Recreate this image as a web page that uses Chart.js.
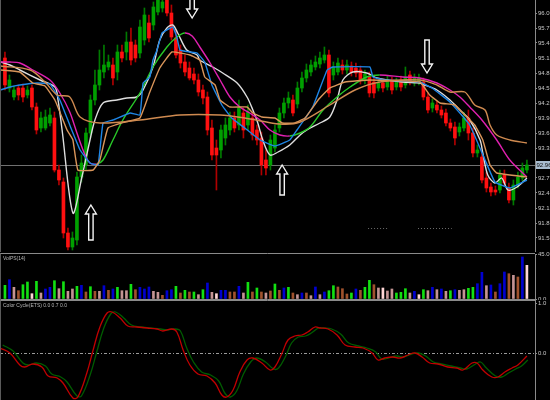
<!DOCTYPE html>
<html><head><meta charset="utf-8">
<script src="https://cdn.jsdelivr.net/npm/chart.js@4.4.0/dist/chart.umd.min.js"></script>
<style>
html,body{margin:0;padding:0;background:#000;width:550px;height:400px;overflow:hidden}
.p{position:absolute;left:0;width:550px}
canvas{display:block}
</style></head><body>
<div class="p" style="top:0;height:252px"><canvas id="main" width="550" height="252"></canvas></div>
<div class="p" style="top:252px;height:48px"><canvas id="vol" width="550" height="48"></canvas></div>
<div class="p" style="top:300px;height:100px"><canvas id="osc" width="550" height="100"></canvas></div>
<script>
// ---------- DATA ----------
const candleOpen = [95.10,94.50,94.32,94.50,94.50,94.36,94.50,94.12,93.70,93.70,
 93.80,93.90,92.86,92.62,91.60,91.32,91.46,92.72,92.96,93.60,
 94.26,94.56,94.82,94.92,94.96,94.82,95.22,95.22,95.42,95.36,
 95.20,95.46,95.80,95.76,96.02,96.10,96.26,96.00,95.50,95.26,
 95.02,94.90,94.78,94.66,94.46,94.32,93.70,93.30,93.26,93.50,
 93.66,93.90,93.76,94.00,93.76,93.90,93.66,93.50,93.06,92.96,
 93.30,93.70,94.00,94.20,94.26,94.18,94.50,94.70,94.82,94.92,
 94.98,95.06,95.16,94.76,94.82,94.96,94.86,94.94,94.90,94.86,
 94.66,94.72,94.62,94.50,94.60,94.52,94.66,94.52,94.66,94.56,
 94.76,94.60,94.62,94.62,94.32,94.10,94.16,94.06,94.00,93.80,
 93.72,93.62,93.70,93.90,93.60,93.20,93.12,92.70,92.52,92.46,
 92.46,92.76,92.50,92.26,92.56,92.70,92.86];
const candleClose = [94.56,94.66,94.46,94.36,94.32,94.46,94.12,93.66,93.90,93.92,
 93.96,92.86,92.66,91.60,91.32,91.50,92.72,93.00,93.60,94.26,
 94.56,94.86,94.96,95.02,94.70,95.22,95.10,95.42,95.06,95.10,
 95.72,95.96,95.50,96.12,96.26,96.22,96.00,95.52,95.16,95.00,
 94.82,94.70,94.66,94.42,94.30,93.66,93.16,93.16,93.66,93.76,
 93.90,93.70,94.10,93.66,94.02,93.56,93.46,92.96,92.90,93.46,
 93.66,94.00,94.20,94.30,94.00,94.50,94.70,94.86,94.96,95.02,
 95.10,95.16,94.40,94.92,95.00,94.86,94.96,94.82,94.80,94.66,
 94.78,94.40,94.40,94.60,94.50,94.66,94.46,94.62,94.52,94.72,
 94.62,94.70,94.70,94.32,94.06,94.20,94.06,93.96,93.80,93.70,
 93.50,93.72,93.90,93.60,93.20,93.26,92.66,92.50,92.42,92.42,
 92.76,92.60,92.26,92.56,92.72,92.90,92.96];
const candleHigh = [95.22,94.76,94.54,94.56,94.58,94.54,94.56,94.20,94.02,94.06,
 94.10,94.02,92.96,92.70,91.70,91.62,92.82,93.16,93.70,94.36,
 94.86,95.26,95.36,95.16,95.10,95.36,95.36,95.62,95.70,95.46,
 95.86,96.10,95.96,96.22,96.36,96.36,96.36,96.16,95.66,95.36,
 95.16,95.02,94.90,94.78,94.56,94.42,93.86,93.46,93.76,93.90,
 94.02,94.02,94.26,94.10,94.16,94.02,93.76,93.62,93.26,93.56,
 93.76,94.10,94.30,94.42,94.36,94.62,94.82,94.98,95.06,95.14,
 95.22,95.32,95.26,95.02,95.10,95.06,95.06,95.02,95.00,94.94,
 94.86,94.82,94.70,94.66,94.66,94.74,94.72,94.70,94.74,94.92,
 94.84,94.78,94.78,94.70,94.40,94.28,94.24,94.14,94.08,93.88,
 93.82,93.80,94.02,94.06,93.70,93.36,93.26,92.82,92.60,92.54,
 92.86,92.86,92.60,92.66,92.82,93.00,93.06];
const candleLow = [94.46,94.42,94.26,94.26,94.22,94.30,94.06,93.58,93.62,93.66,
 93.74,92.82,92.56,91.50,91.26,91.26,91.36,92.62,92.86,93.50,
 94.16,94.46,94.70,94.86,94.56,94.66,95.02,95.06,94.96,95.02,
 95.10,95.36,95.42,95.66,95.96,96.02,95.94,95.46,95.10,94.90,
 94.74,94.66,94.58,94.34,94.18,93.56,93.06,92.46,93.10,93.36,
 93.56,93.62,93.66,93.50,93.66,93.46,93.36,92.76,92.76,92.86,
 93.22,93.62,93.90,94.10,93.94,94.10,94.42,94.62,94.74,94.86,
 94.90,95.00,94.32,94.66,94.76,94.78,94.78,94.74,94.72,94.58,
 94.58,94.32,94.30,94.44,94.42,94.46,94.38,94.46,94.44,94.50,
 94.56,94.54,94.56,94.26,94.00,94.02,94.00,93.90,93.74,93.64,
 93.36,93.54,93.64,93.46,93.12,93.12,92.60,92.42,92.34,92.36,
 92.40,92.54,92.20,92.16,92.50,92.64,92.80];
const lastPrice = 92.96;
const priceTicks = [96.0,95.7,95.4,95.1,94.8,94.5,94.2,93.9,93.6,93.3,93.0,92.7,92.4,92.1,91.8,91.5];

// moving averages: [bar index, price]
const maWhite = [[-1,95.02],[1.1,94.96],[3.3,94.86],[7.8,94.66],[11.1,94.52],[11.8,94.26],[12.7,93.66],[15.1,92.00],[17.1,92.72],[18.9,93.46],[20,93.86],[21.8,94.20],[24.9,94.26],[27.1,94.30],[29.3,94.32],[30.7,94.46],[32.9,94.92],[34.4,95.46],[36,95.70],[37.3,95.76],[38.4,95.60],[40.4,95.26],[42.7,95.16],[43.3,95.06],[46.2,94.92],[48.4,94.80],[51.6,94.60],[53.8,94.32],[55.1,94.06],[56.2,93.80],[57.3,93.46],[58.9,93.16],[60.7,93.22],[63.3,93.36],[65.6,93.56],[67.1,93.66],[70,93.80],[72.2,93.92],[73.8,94.26],[75.1,94.66],[77.3,94.82],[80.4,94.80],[82.7,94.70],[88.4,94.62],[92.2,94.60],[93.3,94.56],[96,94.46],[98.9,94.26],[101.1,94.06],[103.3,93.86],[105.6,93.46],[106.2,93.20],[107.3,92.76],[108.9,92.60],[110.4,92.70],[111.8,92.46],[113.8,92.52],[116,92.70]];
const maBlue = [[-1,94.46],[1.1,94.52],[3.3,94.56],[7.1,94.60],[10,94.58],[12.2,94.26],[14.4,93.76],[16.7,93.26],[18.9,93.00],[20.7,92.96],[21.8,93.80],[24,93.86],[27.8,94.00],[30,93.96],[30.7,94.60],[32.2,94.72],[32.9,95.06],[33.8,95.26],[34.9,95.60],[36,95.66],[37.3,95.72],[38.2,95.52],[38.9,95.26],[41.1,95.22],[42.7,95.20],[44.4,95.02],[46,94.56],[48.2,94.16],[50.4,93.90],[53.3,93.70],[56.7,93.46],[60,93.34],[63.3,93.46],[64.9,93.66],[68.4,94.12],[71.6,94.86],[72.9,94.92],[81.1,94.92],[81.8,94.72],[84.4,94.66],[92.2,94.62],[94.9,94.50],[98.9,94.22],[103.3,93.76],[106.7,93.06],[108.9,92.62],[112.2,92.50],[116,92.66]];
const maTrend = [[-1,95.02],[1.1,95.02],[3.3,95.00],[6.2,94.86],[10,94.66],[12.2,94.40],[14.4,94.02],[16,93.60],[17.8,93.16],[18.9,93.00],[20.4,92.98],[21.8,93.06],[24,93.46],[26.2,93.86],[30,94.40],[32.9,94.92],[36,95.32],[38.2,95.52],[40,95.60],[41.6,95.54],[43.3,95.32],[45.6,95.00],[47.8,94.66],[50,94.32],[52.2,94.12],[54.4,94.00],[56.7,93.86],[58.9,93.66],[61.1,93.56],[63.3,93.54],[65.6,93.60],[67.8,93.72],[70.7,94.06],[73.8,94.32],[76.7,94.52],[80.4,94.72],[83.3,94.76],[88.4,94.72],[92.2,94.70],[96,94.60],[98.9,94.46],[101.1,94.32],[103.3,94.12],[106,93.86],[109.3,93.46],[112.2,93.06],[116,92.72]];
const maOrangeFast = [[-1,94.86],[3.3,94.82],[6.2,94.60],[8.9,94.54],[11.1,94.26],[13.8,93.66],[15.1,93.46],[16.2,92.86],[19.6,92.86],[21.1,93.06],[22.9,93.70],[26.7,93.82],[30,93.90],[32.2,94.42],[34.4,94.90],[37.1,95.22],[41.1,95.16],[43.3,95.06],[44.4,94.72],[46.7,94.56],[47.8,94.26],[50,94.12],[53.8,94.12],[55.1,94.00],[57.1,93.92],[60,93.90],[61.6,93.80],[64.4,93.80],[66.7,93.90],[69.6,94.26],[72.2,94.50],[75.6,94.62],[81.1,94.66],[92.2,94.62],[94.4,94.36],[96.7,94.20],[100,94.16],[102.2,93.96],[104.4,93.76],[106.2,93.46],[107.8,92.96],[109.3,92.80],[116,92.72]];
const maOrangeSlow = [[-1,94.94],[5.6,94.86],[8.9,94.62],[11.6,94.36],[14.4,94.32],[16.7,93.92],[21.1,93.80],[30,93.86],[38.9,93.96],[47.8,93.96],[53.3,93.90],[61.1,93.78],[65.6,93.82],[72.2,94.16],[77.8,94.46],[83.3,94.62],[92.2,94.66],[96,94.56],[98.9,94.42],[102.2,94.42],[104.4,94.16],[106.7,94.06],[107.8,93.76],[109.3,93.56],[112.2,93.46],[116,93.40]];
// signal arrows: [bar index, tip price, tail price, direction]
const arrowMarks = [[19.1,92.16,91.46,'up'],[41.6,95.90,96.34,'down'],[61.6,92.96,92.36,'up'],[93.8,94.80,95.46,'down']];
const dottedLevels = [[80.7,85.0,91.70],[91.8,99.3,91.70]];

const volumes = [13.7,19.3,11.7,8.3,14.3,17.0,5.3,17.7,6.0,10.0,
 11.7,18.3,10.3,17.3,7.7,10.0,12.7,13.7,7.0,12.3,
 7.7,7.7,13.3,8.7,10.0,11.7,8.3,8.3,14.7,9.3,
 11.7,10.0,12.0,7.7,6.7,3.7,8.3,9.3,12.7,6.0,
 8.7,7.0,7.0,4.3,9.3,16.0,6.7,5.3,8.7,8.7,
 7.0,7.0,12.7,6.0,16.7,7.0,11.0,7.0,6.0,8.0,
 15.0,8.7,11.0,11.7,6.0,4.3,6.0,6.0,3.3,12.0,
 4.3,7.0,8.3,13.3,12.0,10.3,5.0,6.0,10.0,8.7,
 11.7,18.7,14.3,11.0,11.0,8.0,10.0,6.0,6.7,10.3,
 6.0,7.7,4.3,9.3,8.3,11.7,9.3,10.0,7.7,8.3,
 9.3,8.7,9.3,10.7,11.7,15.3,26.7,13.3,14.0,7.0,
 15.3,27.0,25.3,23.7,22.0,42.0,33.7];
const volTypes = ['g','b','p','r','g','g','w','g','p','b',
 'b','g','p','g','p','p','g','b','r','g',
 'r','p','b','r','b','g','p','p','g','r',
 'b','b','b','p','p','r','b','b','g','r',
 'g','r','g','p','g','b','p','w','b','b',
 'r','r','b','p','g','r','g','r','p','r',
 'g','r','b','g','r','p','b','r','p','b',
 'p','b','g','g','r','r','r','g','b','r',
 'g','g','r','p','w','p','p','g','g','g',
 'p','b','w','g','p','b','p','b','p','g',
 'b','p','p','g','g','b','b','p','b','r',
 'b','b','r','p','r','b','w'];
const volTicks = [0, 45];
const volLabel = 'VolPS(14)';

const oscRed = [[-1.1,0.10],[1.1,0.00],[3.3,-0.24],[4.4,-0.28],[6.2,-0.22],[8.2,-0.28],[9.6,-0.46],[11.6,-0.50],[12.9,-0.60],[15.1,-0.90],[16.2,-0.88],[18.2,-0.40],[19.6,0.06],[21.1,0.52],[22.7,0.80],[23.8,0.82],[25.6,0.70],[27.3,0.54],[29.3,0.52],[31.6,0.50],[33.8,0.48],[35.1,0.44],[37.1,0.48],[38.2,0.42],[39.6,0.06],[41.1,-0.24],[42.9,-0.42],[44.9,-0.46],[46.7,-0.60],[48.2,-0.84],[49.3,-0.88],[50.7,-0.74],[52.2,-0.38],[53.8,-0.14],[55.1,-0.10],[57.1,-0.20],[58.9,-0.34],[60,-0.28],[61.6,0.00],[62.9,0.26],[64.4,0.34],[66,0.36],[67.3,0.42],[68.9,0.52],[70,0.50],[71.8,0.48],[73.8,0.36],[75.6,0.16],[77.8,0.12],[79.6,0.10],[81.6,0.00],[82.9,-0.14],[84.4,-0.10],[86.2,-0.08],[87.8,-0.10],[89.6,-0.04],[91.1,0.00],[92.7,-0.08],[94.4,-0.20],[96.2,-0.22],[98.4,-0.28],[100.4,-0.30],[101.8,-0.34],[103.8,-0.20],[104.9,-0.20],[106.2,-0.34],[108.2,-0.48],[109.6,-0.48],[111.1,-0.38],[112.7,-0.30],[114,-0.24],[116,-0.06]];
const oscGreen = [[-0.5,0.16],[1.8,0.04],[4,-0.20],[5.2,-0.24],[7,-0.20],[9,-0.26],[10.4,-0.42],[12.4,-0.48],[13.8,-0.58],[16,-0.86],[17,-0.86],[19,-0.42],[20.4,0.02],[21.9,0.48],[23.5,0.78],[24.6,0.82],[26.4,0.70],[28.1,0.56],[30.1,0.52],[32.4,0.50],[34.6,0.48],[35.9,0.46],[37.9,0.48],[39,0.44],[40.4,0.10],[41.9,-0.18],[43.7,-0.38],[45.7,-0.44],[47.5,-0.56],[49,-0.82],[50.1,-0.88],[51.5,-0.76],[53,-0.42],[54.6,-0.18],[55.9,-0.10],[57.9,-0.18],[59.7,-0.32],[60.8,-0.30],[62.4,-0.06],[63.7,0.20],[65.2,0.32],[66.8,0.34],[68.1,0.40],[69.7,0.50],[70.8,0.50],[72.6,0.48],[74.6,0.38],[76.4,0.20],[78.6,0.14],[80.4,0.10],[82.4,0.02],[83.7,-0.12],[85.2,-0.10],[87,-0.06],[88.6,-0.08],[90.4,-0.02],[91.9,0.00],[93.5,-0.06],[95.2,-0.18],[97,-0.22],[99.2,-0.26],[101.2,-0.30],[102.6,-0.32],[104.6,-0.22],[105.7,-0.18],[107,-0.30],[109,-0.46],[110.4,-0.48],[111.9,-0.40],[113.5,-0.32],[114.8,-0.26],[116.2,-0.14]];
const oscTicks = [0, 1];
const oscLabel = 'Color Cycle(ETS) 0.0 0.7 0.0';

// ---------- STYLE / BUILD ----------
const X_MIN = -1.1, X_MAX = 117.8;
const AXIS_W = 15;
const FONT = "'Liberation Sans', Arial, sans-serif";
const idx = candleOpen.map((_, i) => i);
const up = idx.map(i => candleClose[i] >= candleOpen[i]);
const volColor = {g:'#12e012', b:'#0000d0', p:'#c49494', r:'#a0522d', w:'#ffd6d6'};
const pts = arr => arr.map(p => ({x: p[0], y: p[1]}));
const lineDs = (data, color, extra) => Object.assign({
  type:'line', data: pts(data), borderColor: color, borderWidth: 1.4,
  pointRadius: 0, tension: 0.3, fill: false, order: 0}, extra || {});

function yAxis(min, max, ticks, fmt) {
  return {
    position: 'right', min, max, beginAtZero: false,
    afterBuildTicks: s => { s.ticks = ticks.map(v => ({value: v})); },
    afterFit: s => { s.width = AXIS_W; s.paddingTop = 0; s.paddingBottom = 0; },
    ticks: {color: '#c8c8c8', font: {size: 6, family: FONT}, padding: 1, callback: fmt, autoSkip: false, maxRotation: 0},
    grid: {drawOnChartArea: false, color: '#8a8a8a', tickLength: 2},
    border: {display: true, color: '#8a8a8a', width: 1}
  };
}
const xAxis = {type: 'linear', min: X_MIN, max: X_MAX, display: false, offset: false};
const baseOpts = {
  responsive: false, animation: false, events: [],
  plugins: {legend: {display: false}, tooltip: {enabled: false}}
};

// main panel decorations
const mainDecor = {
  id: 'mainDecor',
  beforeDatasetsDraw(chart) {
    const {ctx, chartArea: a, scales: {x, y}} = chart;
    ctx.save();
    const py = Math.round(y.getPixelForValue(lastPrice)) + 0.5;
    ctx.strokeStyle = '#707070'; ctx.lineWidth = 1;
    ctx.beginPath(); ctx.moveTo(a.left, py); ctx.lineTo(a.right, py); ctx.stroke();
    ctx.strokeStyle = '#6a6a6a'; ctx.setLineDash([1, 2]);
    dottedLevels.forEach(d => {
      const yy = Math.round(y.getPixelForValue(d[2])) + 0.5;
      ctx.beginPath(); ctx.moveTo(x.getPixelForValue(d[0]), yy); ctx.lineTo(x.getPixelForValue(d[1]), yy); ctx.stroke();
    });
    ctx.restore();
  },
  afterDatasetsDraw(chart) {
    const {ctx, scales: {x, y}} = chart;
    ctx.save();
    arrowMarks.forEach(m => {
      const cx = x.getPixelForValue(m[0]);
      const tip = y.getPixelForValue(m[1]);
      const tail = y.getPixelForValue(m[2]);
      const s = m[3] === 'up' ? 1 : -1;
      const hh = 9, hw = 5.5, sw = 2.2;
      ctx.beginPath();
      ctx.moveTo(cx, tip);
      ctx.lineTo(cx + hw, tip + s * hh);
      ctx.lineTo(cx + sw, tip + s * hh);
      ctx.lineTo(cx + sw, tail);
      ctx.lineTo(cx - sw, tail);
      ctx.lineTo(cx - sw, tip + s * hh);
      ctx.lineTo(cx - hw, tip + s * hh);
      ctx.closePath();
      ctx.fillStyle = '#000'; ctx.fill();
      ctx.strokeStyle = '#f4f4f4'; ctx.lineWidth = 1.4; ctx.stroke();
    });
    ctx.restore();
  },
  afterDraw(chart) {
    const {ctx, chartArea: a, scales: {y}} = chart;
    ctx.save();
    ctx.strokeStyle = '#5a5a5a'; ctx.lineWidth = 1;
    ctx.beginPath(); ctx.moveTo(0.5, 0); ctx.lineTo(0.5, a.bottom); ctx.stroke();
    const py = Math.round(y.getPixelForValue(lastPrice));
    ctx.fillStyle = '#a8bccf';
    ctx.fillRect(a.right + 1, py - 4, 14, 8);
    ctx.fillStyle = '#101010';
    ctx.font = '6px ' + FONT; ctx.textBaseline = 'middle';
    ctx.fillText(lastPrice.toFixed(2), a.right + 1.5, py + 0.5);
    ctx.restore();
  }
};

new Chart(document.getElementById('main'), {
  type: 'bar',
  data: {datasets: [
    {data: idx.map(i => ({x: i, y: [candleLow[i], candleHigh[i]]})),
     backgroundColor: up.map(u => u ? '#007a00' : '#b00000'), barThickness: 1, grouped: false, order: 6},
    {data: idx.map(i => ({x: i, y: [candleOpen[i], candleClose[i]]})),
     backgroundColor: up.map(u => u ? '#00a000' : '#ff1010'), barThickness: 3, grouped: false, order: 5, minBarLength: 1},
    lineDs(maOrangeSlow, '#cf8a50'),
    lineDs(maOrangeFast, '#d9955a', {tension: 0.1}),
    lineDs(maBlue, '#1e86e6', {tension: 0.1}),
    lineDs(maTrend, '#e020b0', {segment: {borderColor: c => c.p1.parsed.y > c.p0.parsed.y ? '#28c828' : '#e020b0'}}),
    lineDs(maWhite, '#dedede')
  ]},
  options: Object.assign({}, baseOpts, {
    layout: {padding: 0},
    scales: {x: xAxis, y: yAxis(91.22, 96.26, priceTicks, v => v.toFixed(1))}
  }),
  plugins: [mainDecor]
});

function panelDecor(label, topY, bottomLine) {
  return {
    id: 'panelDecor',
    beforeDatasetsDraw(chart) {
      if (chart.canvas.id !== 'osc') return;
      const {ctx, chartArea: a, scales: {y}} = chart;
      const yy = Math.round(y.getPixelForValue(0)) + 0.5;
      ctx.save();
      ctx.strokeStyle = '#9a9a9a'; ctx.setLineDash([3, 2, 1, 2]); ctx.lineWidth = 1;
      ctx.beginPath(); ctx.moveTo(a.left, yy); ctx.lineTo(a.right, yy); ctx.stroke();
      ctx.restore();
    },
    afterDraw(chart) {
      const {ctx, chartArea: a} = chart;
      ctx.save();
      ctx.strokeStyle = '#8a8a8a'; ctx.lineWidth = 1;
      ctx.beginPath(); ctx.moveTo(0, topY); ctx.lineTo(a.right, topY); ctx.stroke();
      if (bottomLine) { ctx.beginPath(); ctx.moveTo(0, bottomLine); ctx.lineTo(a.right, bottomLine); ctx.stroke(); }
      ctx.strokeStyle = '#5a5a5a';
      ctx.beginPath(); ctx.moveTo(0.5, topY); ctx.lineTo(0.5, chart.height); ctx.stroke();
      ctx.fillStyle = '#b8b8b8'; ctx.font = '5px ' + FONT; ctx.textBaseline = 'top';
      ctx.fillText(label, 3, topY + 2.5);
      ctx.restore();
    }
  };
}

new Chart(document.getElementById('vol'), {
  type: 'bar',
  data: {datasets: [{data: idx.map(i => ({x: i, y: volumes[i]})),
    backgroundColor: volTypes.map(t => volColor[t]), barThickness: 2, grouped: false}]},
  options: Object.assign({}, baseOpts, {
    layout: {padding: {top: 2, bottom: 1}},
    scales: {x: xAxis, y: yAxis(0, 45, volTicks, v => v.toFixed(1))}
  }),
  plugins: [panelDecor(volLabel, 1.5, 47.5)]
});

new Chart(document.getElementById('osc'), {
  type: 'line',
  data: {datasets: [
    {data: pts(oscGreen), borderColor: '#005c00', borderWidth: 1.3, pointRadius: 0, tension: 0.4, fill: false, order: 2},
    {data: pts(oscRed), borderColor: '#c00000', borderWidth: 1.3, pointRadius: 0, tension: 0.4, fill: false, order: 1}
  ]},
  options: Object.assign({}, baseOpts, {
    layout: {padding: 0},
    scales: {x: xAxis, y: yAxis(-0.94, 1.06, oscTicks, v => v.toFixed(1))}
  }),
  plugins: [panelDecor(oscLabel, 0.5, 0)]
});
</script>
</body></html>
